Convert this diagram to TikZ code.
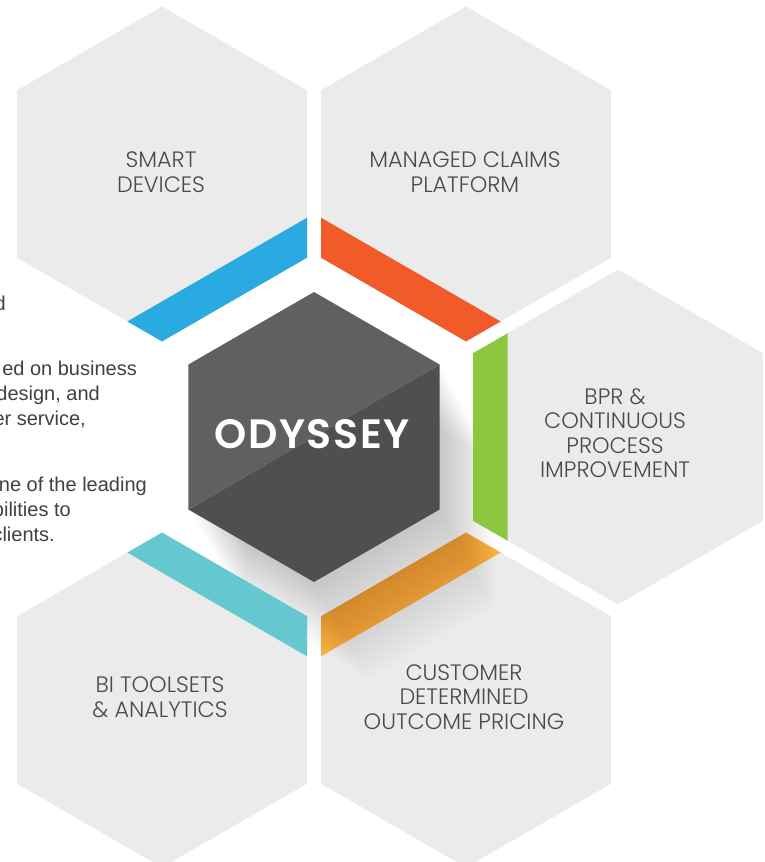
\documentclass[tikz,border=0pt]{standalone}
\usepackage{fontspec}
\usetikzlibrary{calc}
\setmainfont{Liberation Sans}
\IfFontExistsTF{Poppins Light}{\newfontfamily\labfont{Poppins Light}}{\newfontfamily\labfont{Poppins}}
\IfFontExistsTF{Poppins SemiBold}{\newfontfamily\odfont{Poppins SemiBold}[LetterSpace=4]}{\newfontfamily\odfont{Poppins}[LetterSpace=4]}
\definecolor{hexgray}{HTML}{EBEBEB}
\definecolor{cblue}{HTML}{29ABE2}
\definecolor{corange}{HTML}{F15A29}
\definecolor{cgreen}{HTML}{8DC63F}
\definecolor{cyellow}{HTML}{FBB040}
\definecolor{cteal}{HTML}{65C8CE}
\definecolor{darkA}{HTML}{5F605F}
\definecolor{darkB}{HTML}{4E4F4E}
\definecolor{labgray}{HTML}{4A4A4C}
\definecolor{txtgray}{HTML}{414042}
\newcommand\HexCorners[4]{%
  \coordinate (#1) at (#2,#3);
  \coordinate (#1-t) at (#2,#3-#4);
  \coordinate (#1-ur) at (#2+0.8660254*#4,#3-0.5*#4);
  \coordinate (#1-lr) at (#2+0.8660254*#4,#3+0.5*#4);
  \coordinate (#1-b) at (#2,#3+#4);
  \coordinate (#1-ll) at (#2-0.8660254*#4,#3+0.5*#4);
  \coordinate (#1-ul) at (#2-0.8660254*#4,#3-0.5*#4);}
\newcommand\HexPath[1]{(#1-t) -- (#1-ur) -- (#1-lr) -- (#1-b) -- (#1-ll) -- (#1-ul) -- cycle}
\newcommand\HexPathShifted[3]{($(#1-t)+(#2,#3)$) -- ($(#1-ur)+(#2,#3)$) -- ($(#1-lr)+(#2,#3)$) -- ($(#1-b)+(#2,#3)$) -- ($(#1-ll)+(#2,#3)$) -- ($(#1-ul)+(#2,#3)$) -- cycle}
\tikzset{
  lab/.style={text=labgray, align=center, font=\labfont\fontsize{22.3}{24.5}\selectfont, inner sep=0pt},
  side/.style={text=txtgray, anchor=base east, font=\fontsize{20}{25.5}\selectfont, inner sep=0pt},
  hexfill/.style={fill=hexgray},
  shadowlayer/.style={fill=black, fill opacity=0.0068}
}
\begin{document}
\begin{tikzpicture}[x=1pt,y=-1pt]
\useasboundingbox (0,0) rectangle (764,862);
\clip (0,0) rectangle (764,862);
\fill[white] (0,0) rectangle (764,862);
% hexagon geometry
\HexCorners{S}{162}{174}{167.43}
\HexCorners{M}{466}{174}{167.43}
\HexCorners{B}{618}{437}{167.43}
\HexCorners{C}{466}{700}{167.43}
\HexCorners{T}{162}{700}{167.43}
\HexCorners{O}{314}{437}{145}
% outer hexagons
\foreach \h in {S,M,B,C,T} { \fill[hexfill] \HexPath{\h}; }
% yellow band (receives shadow)
\fill[cyellow] (C-ul) -- (C-t) -- ($(C-t)!40pt!(C-ur)$) -- ($(C-ul)!40pt!(C-ll)$) -- cycle;
% long shadow of the central hexagon
\foreach \k in {1,...,28} {
  \pgfmathsetmacro\dx{\k*2}
  \pgfmathsetmacro\dy{\k*3.464}
  \fill[shadowlayer] \HexPathShifted{O}{\dx}{\dy};
}
% other bands
\fill[cblue] (S-b) -- (S-lr) -- ($(S-lr)!40pt!(S-ur)$) -- ($(S-b)!40pt!(S-ll)$) -- cycle;
\fill[corange] (M-ll) -- (M-b) -- ($(M-b)!40pt!(M-lr)$) -- ($(M-ll)!40pt!(M-ul)$) -- cycle;
\fill[cgreen] (B-ul) -- (B-ll) -- ($(B-ll)!40pt!(B-b)$) -- ($(B-ul)!40pt!(B-t)$) -- cycle;
\fill[cteal] (T-t) -- (T-ur) -- ($(T-ur)!40pt!(T-lr)$) -- ($(T-t)!40pt!(T-ul)$) -- cycle;
% central hexagon
\fill[darkB] (O-ur) -- (O-lr) -- (O-b) -- (O-ll) -- cycle;
\fill[darkA] (O-ll) -- (O-ul) -- (O-t) -- (O-ur) -- cycle;
\node[text=white, inner sep=0pt, font=\odfont\fontsize{41}{46}\selectfont] (od) at (312,434) {ODYSSEY};
% labels
\node[lab] (lS) at (161,172) {SMART\\DEVICES};
\node[lab] (lM) at (465,172) {MANAGED CLAIMS\\PLATFORM};
\node[lab] (lB) at (615,433) {BPR \&\\CONTINUOUS\\PROCESS\\IMPROVEMENT};
\node[lab] (lC) at (464,697) {CUSTOMER\\DETERMINED\\OUTCOME PRICING};
\node[lab] (lT) at (160,697) {BI TOOLSETS\\\& ANALYTICS};
% cut-off side text
\node[side] (t1) at (6,310) {d};
\node[side] (t2) at (137,375) {ed on business};
\node[side] (t3) at (100,400) {design, and};
\node[side] (t4) at (86,425.5) {er service,};
\node[side] (t5) at (147,491) {ne of the leading};
\node[side] (t6) at (71,516) {bilities to};
\node[side] (t7) at (55,541) {clients.};
\end{tikzpicture}
\end{document}
